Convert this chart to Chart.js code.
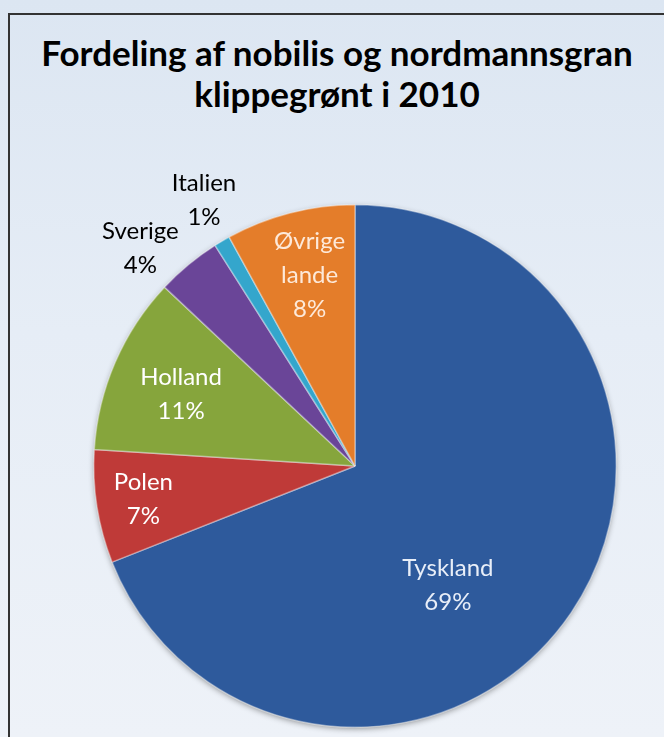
<!DOCTYPE html>
<html>
<head>
<meta charset="utf-8">
<script src="https://cdn.jsdelivr.net/npm/chart.js@4"></script>
<style>
  html, body { margin: 0; padding: 0; }
  body {
    width: 664px; height: 737px; overflow: hidden; position: relative;
    background: linear-gradient(180deg, #dce6f2 0%, #e6edf6 45%, #eef2f8 100%);
  }
  #frame {
    position: absolute; left: 8px; top: 13px; width: 700px; height: 760px;
    border: 2px solid #333; box-sizing: border-box;
  }
  #title {
    position: absolute; left: 10px; top: 32px; width: 654px;
    text-align: center; font-family: Lato, sans-serif; font-weight: bold;
    font-size: 35px; line-height: 41px; color: #000;
  }
  #wrap { position: absolute; left: 0; top: 0; width: 664px; height: 737px; }
</style>
</head>
<body>
<div id="frame"></div>
<div id="title">Fordeling af nobilis og nordmannsgran<br>klippegrønt i 2010</div>
<div id="wrap"><canvas id="myChart" width="664" height="737"></canvas></div>
<script>
// data arrays
const countries = ["Tyskland", "Polen", "Holland", "Sverige", "Italien", "Øvrige lande"];
const shares = [69, 7, 11, 4, 1, 8];
const labelLines = [["Tyskland"], ["Polen"], ["Holland"], ["Sverige"], ["Italien"], ["Øvrige", "lande"]];

const sliceColors = ["#2e5a9c", "#bf3a38", "#86a53c", "#6a4598", "#34a6cc", "#e47d2a"];

// where each label sits: fraction of radius, angle shift in degrees, text colour
const labelStyle = [
  { r: 0.58, shift: 18, color: "#e8eef8" },
  { r: 0.82, shift: 0, color: "#ffffff" },
  { r: 0.72, shift: -1, color: "#ffffff" },
  { r: 1.17, shift: -5, color: "#000000" },
  { r: 1.17, shift: 1, color: "#000000" },
  { r: 0.75, shift: 1, color: "#fde9d9" }
];

// soft shadow round the pie
const pieShadow = {
  id: "pieShadow",
  beforeDatasetsDraw(chart) {
    const arc = chart.getDatasetMeta(0).data[0];
    if (!arc) return;
    const p = arc.getProps(["x", "y", "outerRadius"], true);
    const ctx = chart.ctx;
    ctx.save();
    ctx.shadowColor = "rgba(0,0,0,0.45)";
    ctx.shadowBlur = 6;
    ctx.shadowOffsetY = 2;
    ctx.fillStyle = "#2e5a9c";
    ctx.beginPath();
    ctx.arc(p.x, p.y, p.outerRadius - 1, 0, Math.PI * 2);
    ctx.fill();
    ctx.restore();
  }
};

const sliceLabels = {
  id: "sliceLabels",
  afterDatasetsDraw(chart) {
    const ctx = chart.ctx;
    const meta = chart.getDatasetMeta(0);
    ctx.save();
    ctx.font = "24px Lato, 'Open Sans', sans-serif";
    ctx.textAlign = "center";
    ctx.textBaseline = "middle";
    meta.data.forEach((arc, i) => {
      const p = arc.getProps(["x", "y", "startAngle", "endAngle", "outerRadius"], true);
      const st = labelStyle[i];
      const mid = (p.startAngle + p.endAngle) / 2 + st.shift * Math.PI / 180;
      const cx = p.x + Math.cos(mid) * p.outerRadius * st.r;
      const cy = p.y + Math.sin(mid) * p.outerRadius * st.r;
      const lines = labelLines[i].concat([shares[i] + "%"]);
      const lh = 34;
      const top = cy - (lines.length - 1) * lh / 2;
      ctx.fillStyle = st.color;
      lines.forEach((t, k) => ctx.fillText(t, cx, top + k * lh));
    });
    ctx.restore();
  }
};

const generateGraph = () => {
  let ctx = document.getElementById("myChart").getContext("2d");
  let myChart = new Chart(ctx, {
    type: "pie",
    data: {
      labels: countries,
      datasets: [{
        data: shares,
        backgroundColor: sliceColors,
        borderColor: "rgba(255,255,255,0.4)",
        borderWidth: 1.5
      }]
    },
    options: {
      responsive: false,
      animation: false,
      layout: { padding: { top: 204, left: 93, right: 47, bottom: 9 } },
      plugins: {
        legend: { display: false },
        tooltip: { enabled: false },
        title: { display: false }
      }
    },
    plugins: [pieShadow, sliceLabels]
  });
};

generateGraph();
</script>
</body>
</html>
